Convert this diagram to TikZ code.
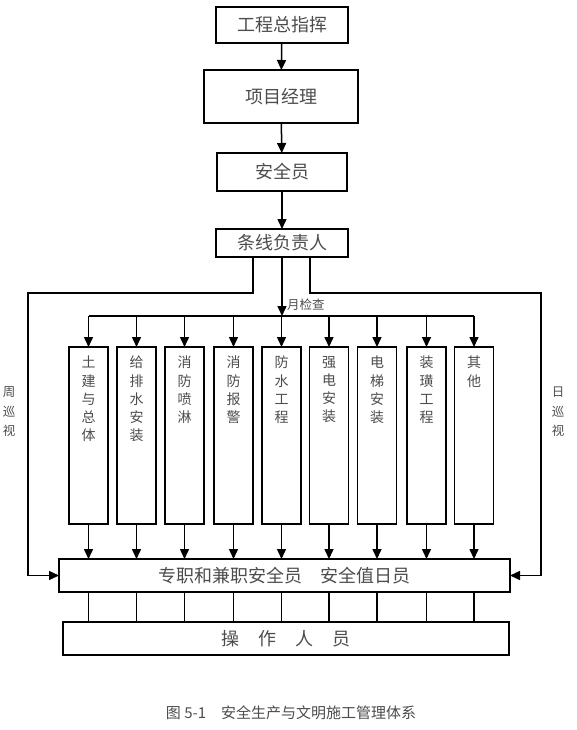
\documentclass[tikz,border=0pt]{standalone}
\usepackage{fontspec}
\newfontfamily\cjk{Noto Sans CJK SC}
\usepackage{tikz}
\usetikzlibrary{arrows.meta,calc}

\begin{document}
\begin{tikzpicture}[x=1pt, y=-1pt,
    every node/.append style={font=\cjk, text=black!70, inner sep=0pt, outer sep=0pt},
    mainbox/.style={draw, line width=1.5pt, minimum width=#1,
                    font=\cjk\fontsize{18}{18}\selectfont},
    tradebox/.style={draw, line width=1.5pt, minimum width=39pt, minimum height=177pt},
    tradetext/.style={anchor=north, align=center, font=\cjk\fontsize{14}{18.3}\selectfont},
    sidenote/.style={align=center, font=\cjk\fontsize{12.5}{19.5}\selectfont},
    flow/.style={line width=1.5pt, -{Triangle[length=10pt, width=9pt]}},
    link/.style={line width=1.5pt}
]
\useasboundingbox (0,0) rectangle (576,730);

%% Command chain (top)
\node[mainbox=132pt, minimum height=36pt] (chief) at (282,25) {工程总指挥};
\node[mainbox=154pt, minimum height=53pt] (pm) at (281,96.5) {项目经理};
\node[mainbox=130pt, minimum height=38pt] (officer) at (282,172) {安全员};
\node[mainbox=132pt, minimum height=28pt] (lead) at (282,243) {条线负责人};
\draw[flow] (chief) -- (pm);
\draw[flow] (pm) -- (officer);
\draw[flow] (officer) -- (lead);

%% Trades
\node[tradebox] (b1) at (88.5,435.5) {};
\node[tradebox] (b2) at (136.5,435.5) {};
\node[tradebox] (b3) at (184.5,435.5) {};
\node[tradebox] (b4) at (233.5,435.5) {};
\node[tradebox] (b5) at (281.5,435.5) {};
\node[tradebox] (b6) at (329,435.5) {};
\node[tradebox] (b7) at (377,435.5) {};
\node[tradebox] (b8) at (426.5,435.5) {};
\node[tradebox] (b9) at (474,435.5) {};
\node[tradetext] (t1) at ([yshift=-9pt]b1.north) {土\\建\\与\\总\\体};
\node[tradetext] (t2) at ([yshift=-9pt]b2.north) {给\\排\\水\\安\\装};
\node[tradetext] (t3) at ([yshift=-9pt]b3.north) {消\\防\\喷\\淋};
\node[tradetext] (t4) at ([yshift=-9pt]b4.north) {消\\防\\报\\警};
\node[tradetext] (t5) at ([yshift=-9pt]b5.north) {防\\水\\工\\程};
\node[tradetext] (t6) at ([yshift=-9pt]b6.north) {强\\电\\安\\装};
\node[tradetext] (t7) at ([yshift=-9pt]b7.north) {电\\梯\\安\\装};
\node[tradetext] (t8) at ([yshift=-9pt]b8.north) {装\\璜\\工\\程};
\node[tradetext] (t9) at ([yshift=-9pt]b9.north) {其\\他};

%% Monthly check bus
\coordinate (bus) at (282,316);
\draw[flow] (lead) -- (bus);
\node[sidenote, anchor=west] (monthly) at (287,305) {月检查};
\draw[link] (b1.north |- bus) -- (b9.north |- bus);
\draw[flow] (b1.north |- bus) -- (b1.north);
\draw[flow] (b2.north |- bus) -- (b2.north);
\draw[flow] (b3.north |- bus) -- (b3.north);
\draw[flow] (b4.north |- bus) -- (b4.north);
\draw[flow] (b5.north |- bus) -- (b5.north);
\draw[flow] (b6.north |- bus) -- (b6.north);
\draw[flow] (b7.north |- bus) -- (b7.north);
\draw[flow] (b8.north |- bus) -- (b8.north);
\draw[flow] (b9.north |- bus) -- (b9.north);

%% Duty officers and workers
\node[mainbox=451pt, minimum height=33pt] (duty) at (284.5,575.5) {专职和兼职安全员\quad 安全值日员};
\node[mainbox=446pt, minimum height=33pt] (ops) at (286,638.5)
    {操\hspace{19pt}作\hspace{19pt}人\hspace{19pt}员};
\draw[flow] (b1) -- (b1 |- duty.north);
\draw[flow] (b2) -- (b2 |- duty.north);
\draw[flow] (b3) -- (b3 |- duty.north);
\draw[flow] (b4) -- (b4 |- duty.north);
\draw[flow] (b5) -- (b5 |- duty.north);
\draw[flow] (b6) -- (b6 |- duty.north);
\draw[flow] (b7) -- (b7 |- duty.north);
\draw[flow] (b8) -- (b8 |- duty.north);
\draw[flow] (b9) -- (b9 |- duty.north);
\draw[link] (b1 |- duty.south) -- (b1 |- ops.north);
\draw[link] (b2 |- duty.south) -- (b2 |- ops.north);
\draw[link] (b3 |- duty.south) -- (b3 |- ops.north);
\draw[link] (b4 |- duty.south) -- (b4 |- ops.north);
\draw[link] (b5 |- duty.south) -- (b5 |- ops.north);
\draw[link] (b6 |- duty.south) -- (b6 |- ops.north);
\draw[link] (b7 |- duty.south) -- (b7 |- ops.north);
\draw[link] (b8 |- duty.south) -- (b8 |- ops.north);
\draw[link] (b9 |- duty.south) -- (b9 |- ops.north);

%% Weekly and daily patrols
\coordinate (wk) at (28,293);
\coordinate (dy) at (541,293);
\draw[flow] ([xshift=-29pt]lead.south) |- (wk) |- (duty.west);
\draw[flow] ([xshift=28pt]lead.south) |- (dy) |- (duty.east);
\node[sidenote] (weekly) at (9,412) {周\\巡\\视};
\node[sidenote] (daily) at (558,412) {日\\巡\\视};

%% Caption
\node[font=\cjk\fontsize{15}{15}\selectfont] (caption) at (291,713)
    {图 5-1\quad 安全生产与文明施工管理体系};

\end{tikzpicture}
\end{document}
